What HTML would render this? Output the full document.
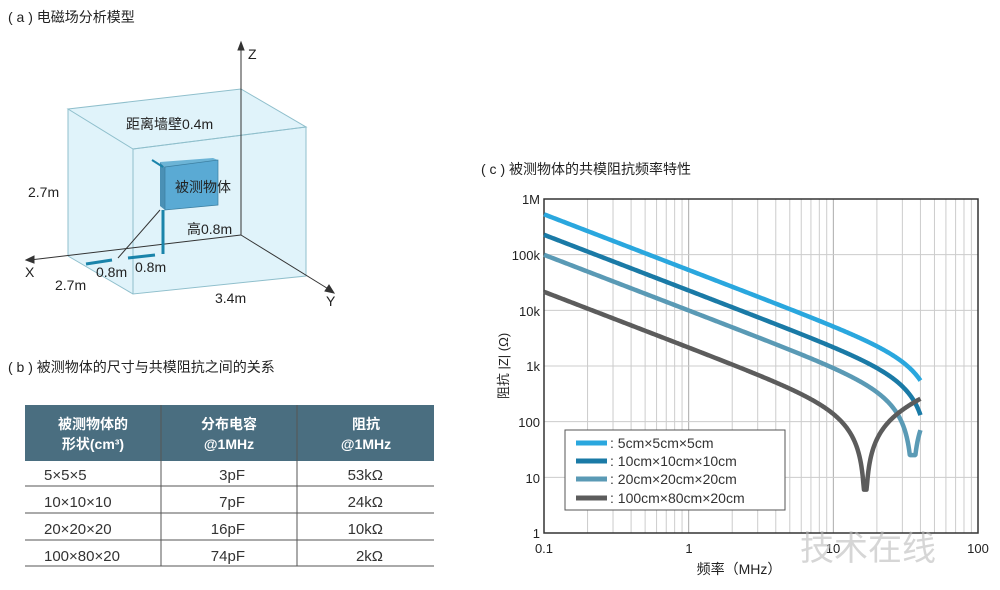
<!DOCTYPE html>
<html><head><meta charset="utf-8"><style>
body{margin:0;background:#fff;width:1000px;height:585px;overflow:hidden;font-family:"Liberation Sans","Noto Sans CJK SC",sans-serif}
svg text{font-family:"Liberation Sans","Noto Sans CJK SC",sans-serif}
</style></head><body>
<svg width="1000" height="585" xmlns="http://www.w3.org/2000/svg" id="s">
<text x="8" y="22" font-size="14" fill="#222">( a ) 电磁场分析模型</text>
<!-- 3D box -->
<polygon points="68,109 241,89 306,127 306,276 133,294 68,256" fill="#e0f3fa"/>
<g stroke="#8fbfcc" stroke-width="1" fill="none">
<polygon points="68,109 241,89 306,127 133,149"/>
<polygon points="133,149 306,127 306,276 133,294"/>
<line x1="68" y1="109" x2="68" y2="256"/><line x1="68" y1="256" x2="133" y2="294"/>
<line x1="241" y1="89" x2="241" y2="235"/>
</g>
<g stroke="#333" stroke-width="1">
<line x1="241" y1="235" x2="241" y2="47"/><polygon points="241,42 238,50 244,50" fill="#333"/>
<line x1="241" y1="235" x2="30" y2="260"/><polygon points="26,260 34,256 34,263" fill="#333"/>
<line x1="241" y1="235" x2="330" y2="290"/><polygon points="334,293 325,291 329,285" fill="#333"/>
<line x1="118" y1="258" x2="160" y2="210"/>
</g>
<polygon points="160,162 165,167 165,210 160,206" fill="#4a90b5"/>
<polygon points="160,162 213,158 218,160 165,167" fill="#6cb4d6"/>
<polygon points="165,167 218,160 218,205 165,210" fill="#5aaad4" stroke="#3b7ea0" stroke-width="0.7"/>
<line x1="152" y1="160" x2="163" y2="167" stroke="#1a84aa" stroke-width="2"/>
<line x1="163" y1="210" x2="163" y2="254" stroke="#1a84aa" stroke-width="3"/>
<line x1="86" y1="264" x2="112" y2="260" stroke="#1a84aa" stroke-width="3"/>
<line x1="128" y1="258" x2="155" y2="255" stroke="#1a84aa" stroke-width="3"/>
<g font-size="14" fill="#222">
<text x="126" y="129">距离墙壁0.4m</text>
<text x="28" y="197">2.7m</text>
<text x="175" y="192">被测物体</text>
<text x="187" y="234">高0.8m</text>
<text x="25" y="277">X</text>
<text x="55" y="290">2.7m</text>
<text x="96" y="277">0.8m</text>
<text x="135" y="272">0.8m</text>
<text x="215" y="303">3.4m</text>
<text x="326" y="306">Y</text>
<text x="248" y="59">Z</text>
</g>
<!-- table -->
<text x="8" y="372" font-size="14" fill="#222">( b ) 被测物体的尺寸与共模阻抗之间的关系</text>
<rect x="25" y="405" width="409" height="56" fill="#4a6e80"/>
<g fill="#fff" font-size="14" font-weight="bold" text-anchor="middle">
<text x="93" y="429">被测物体的</text><text x="93" y="449">形状(cm³)</text>
<text x="229" y="429">分布电容</text><text x="229" y="449">@1MHz</text>
<text x="366" y="429">阻抗</text><text x="366" y="449">@1MHz</text>
</g>
<g stroke="#555" stroke-width="1">
<line x1="161" y1="405" x2="161" y2="566"/><line x1="297" y1="405" x2="297" y2="566"/>
<line x1="25" y1="486" x2="434" y2="486"/><line x1="25" y1="513" x2="434" y2="513"/>
<line x1="25" y1="540" x2="434" y2="540"/><line x1="25" y1="566" x2="434" y2="566"/>
</g>
<g font-size="15" fill="#333">
<text x="44" y="480">5×5×5</text><text x="44" y="507">10×10×10</text><text x="44" y="534">20×20×20</text><text x="44" y="561">100×80×20</text>
<text x="245" y="480" text-anchor="end">3pF</text><text x="245" y="507" text-anchor="end">7pF</text><text x="245" y="534" text-anchor="end">16pF</text><text x="245" y="561" text-anchor="end">74pF</text>
<text x="383" y="480" text-anchor="end">53kΩ</text><text x="383" y="507" text-anchor="end">24kΩ</text><text x="383" y="534" text-anchor="end">10kΩ</text><text x="383" y="561" text-anchor="end">2kΩ</text>
</g>
<!-- chart -->
<text x="481" y="174" font-size="14" fill="#222">( c ) 被测物体的共模阻抗频率特性</text>
<g id="grid"></g>
<rect x="544" y="199" width="434" height="334" fill="none" stroke="#333" stroke-width="1.5"/>
<g font-size="13" fill="#222" text-anchor="end">
<text x="540" y="204">1M</text><text x="540" y="260">100k</text><text x="540" y="316">10k</text><text x="540" y="371">1k</text><text x="540" y="427">100</text><text x="540" y="483">10</text><text x="540" y="538">1</text>
</g>
<g font-size="13" fill="#222" text-anchor="middle">
<text x="544" y="553">0.1</text><text x="689" y="553">1</text><text x="833" y="553">10</text><text x="978" y="553">100</text>
</g>
<text x="739" y="574" font-size="14" fill="#222" text-anchor="middle">频率（MHz）</text>
<text transform="translate(508,366) rotate(-90)" font-size="13" fill="#222" text-anchor="middle">阻抗 |Z| (Ω)</text>
<g id="curves"></g>
<rect x="565" y="430" width="220" height="80" fill="#fff" stroke="#555" stroke-width="1"/>
<g stroke-width="5">
<line x1="576" y1="443" x2="607" y2="443" stroke="#2aa7de"/>
<line x1="576" y1="461" x2="607" y2="461" stroke="#1a7aa6"/>
<line x1="576" y1="479" x2="607" y2="479" stroke="#5a9ab5"/>
<line x1="576" y1="498" x2="607" y2="498" stroke="#5c5c5c"/>
</g>
<g font-size="14" fill="#333">
<text x="610" y="448">: 5cm×5cm×5cm</text>
<text x="610" y="466">: 10cm×10cm×10cm</text>
<text x="610" y="484">: 20cm×20cm×20cm</text>
<text x="610" y="503">: 100cm×80cm×20cm</text>
</g>
<text x="800" y="560" font-size="34" fill="#bbb" opacity="0.6">技术在线</text>
</svg>
<script>
var NS="http://www.w3.org/2000/svg";
function X(f){return 544+144.67*Math.log10(f/0.1);}
function Y(z){return 533-55.67*Math.log10(z);}
var g=document.getElementById('grid'),h='';
for(var d=0;d<3;d++){for(var k=2;k<=9;k++){var x=X(0.1*Math.pow(10,d)*k);h+='<line x1="'+x+'" y1="199" x2="'+x+'" y2="533" stroke="#ccc" stroke-width="1"/>';}
 var xd=X(0.1*Math.pow(10,d));h+='<line x1="'+xd+'" y1="199" x2="'+xd+'" y2="533" stroke="#aaa" stroke-width="1"/>';}
for(var e=1;e<6;e++){var y=Y(Math.pow(10,e));h+='<line x1="544" y1="'+y+'" x2="978" y2="'+y+'" stroke="#ccc" stroke-width="1"/>';}
g.innerHTML=h;
var S=[[3e-12,3.1e-6,'#2aa7de',1],[7e-12,1.74e-6,'#1a7aa6',1],[16e-12,1.27e-6,'#5a9ab5',25],[74e-12,1.24e-6,'#5c5c5c',6]];
var c='';
S.forEach(function(s){var p=[];for(var i=0;i<=600;i++){var f=0.1*Math.pow(10,i/600*Math.log10(40/0.1));var w=2*Math.PI*f*1e6;var z=Math.abs(1/(w*s[0])-w*s[1]);if(z<s[3])z=s[3];p.push(X(f).toFixed(2)+','+Y(z).toFixed(2));}
c+='<polyline points="'+p.join(' ')+'" fill="none" stroke="'+s[2]+'" stroke-width="4.5" stroke-linejoin="round"/>';});
document.getElementById('curves').innerHTML=c;
</script>
</body></html>
